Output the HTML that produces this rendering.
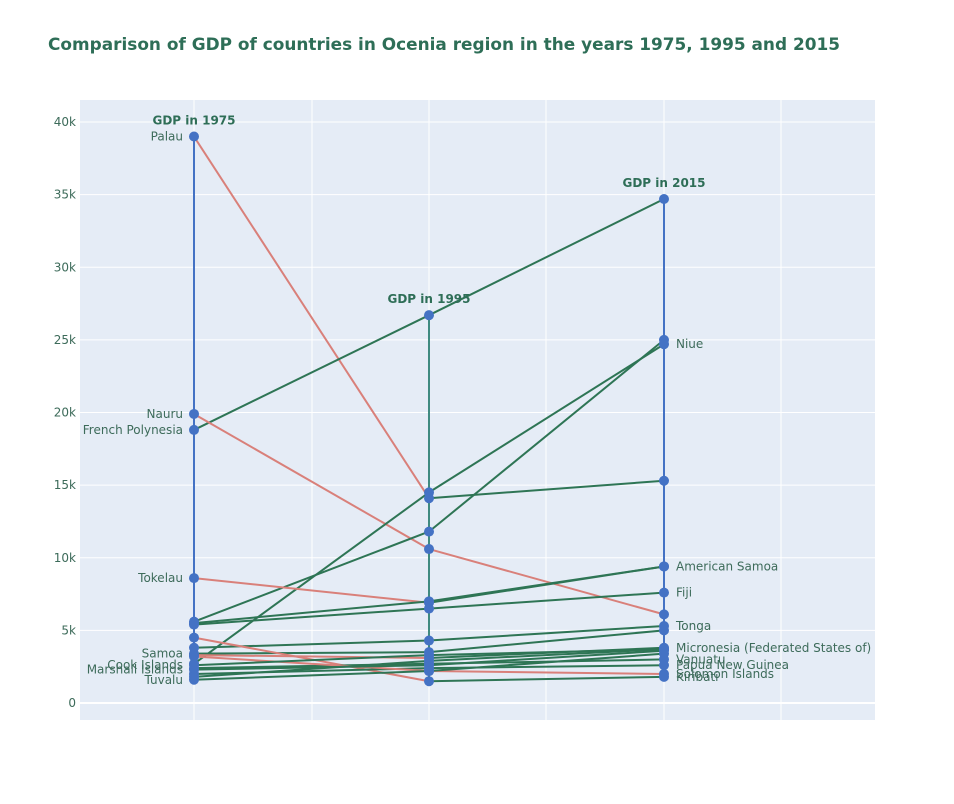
<!DOCTYPE html>
<html><head><meta charset="utf-8"><style>
body{margin:0;background:#fff;font-family:"DejaVu Sans",sans-serif;}
</style></head><body>
<svg id="chart" width="954" height="800" xmlns="http://www.w3.org/2000/svg">
<rect width="954" height="800" fill="#fff"/>
<text x="48" y="50" font-family="DejaVu Sans, sans-serif" font-size="17" font-weight="bold" fill="#2e6e57" textLength="792" lengthAdjust="spacingAndGlyphs">Comparison of GDP of countries in Ocenia region in the years 1975, 1995 and 2015</text>
<rect x="80" y="100" width="795" height="620" fill="#e5ecf6"/>
<g id="grid"></g><g id="lines"></g><g id="marks"></g><g id="labels"></g>
</svg>
<script>
const years = ["1975","1995","2015"];
const countries = ["Palau","French Polynesia","Nauru","Niue","New Caledonia","Tokelau","American Samoa","Fiji","Tonga","Samoa","Kiribati","Micronesia (Federated States of)","Vanuatu","Papua New Guinea","Solomon Islands","Cook Islands","Marshall Islands","Tuvalu","Wallis and Futuna"];
const gdp1975 = [39000,18800,19900,2700,5600,8600,5500,5400,3800,3400,4500,3300,2400,2000,3200,2600,2300,1600,1800];
const gdp1995 = [14100,26700,10600,14500,11800,6900,7000,6500,4300,3500,1500,3100,2700,2400,2200,3300,2600,2200,2900];
const gdp2015 = [15300,34700,6100,24700,25000,9400,9400,7600,5300,5000,1800,3800,3000,2600,2000,3700,3600,3400,3700];
const labelsLeft = ["Palau","Nauru","French Polynesia","Tokelau","Samoa","Cook Islands","Marshall Islands","Tuvalu"];
const labelsRight = ["Niue","American Samoa","Fiji","Tonga","Micronesia (Federated States of)","Vanuatu","Papua New Guinea","Solomon Islands","Kiribati"];
const yTicks = [0,5000,10000,15000,20000,25000,30000,35000,40000];
const yTickLabels = ["0","5k","10k","15k","20k","25k","30k","35k","40k"];

const NS="http://www.w3.org/2000/svg";
const yS=v=>703-v*(581/40000);
const xS=i=>194+i*235;
function mk(tag,attrs,parent){const e=document.createElementNS(NS,tag);for(const k in attrs)e.setAttribute(k,attrs[k]);document.getElementById(parent).appendChild(e);return e;}
const F="DejaVu Sans, sans-serif";
[194,312,429,546,664,781].forEach((x,i)=>{const l=mk('line',{x1:x,x2:x,y1:100,y2:720,stroke:'#fff','stroke-width':1},'grid');

});
yTicks.forEach((v,i)=>{const l=mk('line',{x1:80,x2:875,y1:yS(v),y2:yS(v),stroke:'#fff','stroke-width':v===0?2:1},'grid');


const t=mk('text',{x:76,y:yS(v)+4,'text-anchor':'end','font-size':12,'font-family':F,fill:'#3d6b5a'},'grid');
t.textContent=yTickLabels[i];

});
const series=[gdp1975,gdp1995,gdp2015];
const vcol=['#4472c4','#3f8a80','#4472c4'];
series.forEach((s,i)=>{const l=mk('line',{x1:xS(i),x2:xS(i),y1:yS(Math.max(...s)),y2:yS(Math.min(...s)),stroke:vcol[i],'stroke-width':2},'lines');


const t=mk('text',{x:xS(i),y:yS(Math.max(...s))-12,'text-anchor':'middle','font-size':12,'font-weight':'bold','font-family':F,fill:'#2e6e57'},'labels');
t.textContent='GDP in '+years[i];

});
countries.forEach((c,ci)=>{
 for(let i=0;i<2;i++){const a=series[i][ci],b=series[i+1][ci];
  const l=mk('line',{x1:xS(i),y1:yS(a),x2:xS(i+1),y2:yS(b),stroke:b<a?'#d9807a':'#2e7555','stroke-width':2},'lines');
  
  }
 for(let i=0;i<3;i++){const p=mk('circle',{cx:xS(i),cy:yS(series[i][ci]),r:5,fill:'#4472c4'},'marks');
  
  }
});
labelsLeft.forEach(n=>{const ci=countries.indexOf(n);const t=mk('text',{x:183,y:yS(gdp1975[ci])+4,'text-anchor':'end','font-size':12,'font-family':F,fill:'#3d6b5a'},'labels');
t.textContent=n;

});
labelsRight.forEach(n=>{const ci=countries.indexOf(n);const t=mk('text',{x:676,y:yS(gdp2015[ci])+4,'font-size':12,'font-family':F,fill:'#3d6b5a'},'labels');
t.textContent=n;

});
</script>
</body></html>
